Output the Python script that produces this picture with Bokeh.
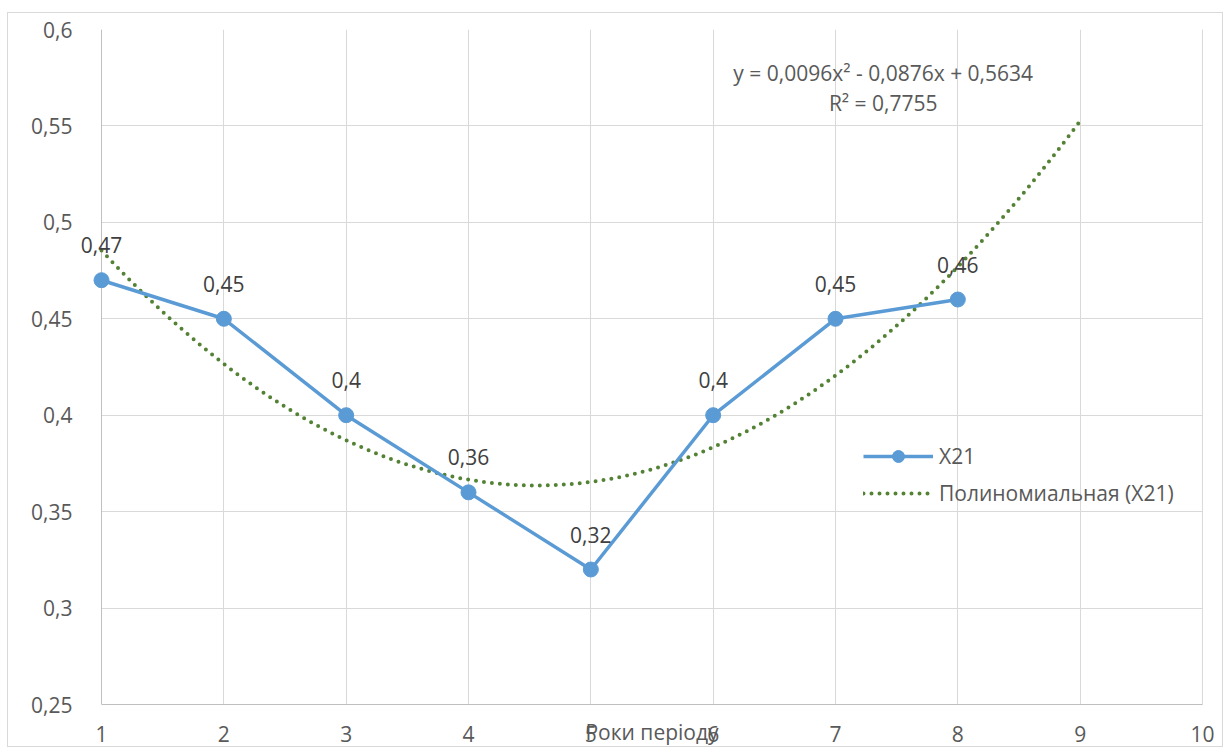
from bokeh.plotting import figure
from bokeh.models import (ColumnDataSource, LabelSet, Label, Legend, LegendItem,
                          FixedTicker, CustomJSTickFormatter, BoxAnnotation, Span)
from bokeh.core.properties import value
from bokeh.embed import file_html
from bokeh.resources import INLINE
import numpy as np

# Series X21 by period year
years = [1, 2, 3, 4, 5, 6, 7, 8]
x21 = [0.47, 0.45, 0.40, 0.36, 0.32, 0.40, 0.45, 0.46]

# Polynomial trend (2nd order), forecast one period forward
trend_coef = [0.0096, -0.0876, 0.5634]
trend_r2 = 0.7755
trend_x_end = 9

x_ticks = [1, 2, 3, 4, 5, 6, 7, 8, 9, 10]
y_ticks = [0.25, 0.30, 0.35, 0.40, 0.45, 0.50, 0.55, 0.60]
x_min, x_max = 1, 10
y_min, y_max = 0.25, 0.60

FONT = "Open Sans"
FS = "21px"
BLUE = "#5B9BD5"
GREEN = "#548235"
GRID = "#D9D9D9"
AXIS = "#BFBFBF"
TICK_TXT = "#595959"
LBL_TXT = "#404040"


def fmt(v):
    return f"{v:g}".replace(".", ",")


src = ColumnDataSource(dict(x=years, y=x21, txt=[fmt(v) for v in x21]))
tx = np.linspace(years[0], trend_x_end, 200)
ty = np.polyval(trend_coef, tx)
tsrc = ColumnDataSource(dict(x=tx, y=ty))

# the frame runs a little past x=1 and x=10 on both sides so the first data
# label is not clipped; those strips are blanked out below
x_pad = 0.18
p = figure(width=1216, height=735, x_range=(x_min - x_pad, x_max + x_pad),
           y_range=(y_min, y_max),
           output_backend="svg", toolbar_location=None,
           min_border_left=71, min_border_top=16, min_border_right=0,
           min_border_bottom=42, margin=(12, 0, 0, 7))
p.styles = {"border": "1px solid #D9D9D9", "box-sizing": "border-box"}
p.outline_line_color = None
p.background_fill_color = "white"
p.border_fill_color = "white"

# axes
for ax in (p.xaxis[0], p.yaxis[0]):
    ax.major_tick_line_color = None
    ax.minor_tick_line_color = None
    ax.major_label_text_font = FONT
    ax.major_label_text_font_size = FS
    ax.major_label_text_color = TICK_TXT
p.xaxis.axis_line_color = AXIS
p.xaxis.bounds = (x_min, x_max)
p.yaxis.axis_line_color = None
p.xaxis.ticker = FixedTicker(ticks=x_ticks)
p.yaxis.ticker = FixedTicker(ticks=y_ticks)
p.xaxis.major_label_standoff = 15
p.yaxis.major_label_standoff = 1
p.yaxis.formatter = CustomJSTickFormatter(
    code="return (+tick.toFixed(2)).toString().replace('.', ',');")

# axis title sits on the same row as the tick labels
p.xaxis.axis_label = "Роки періоду"
p.xaxis.axis_label_text_font = FONT
p.xaxis.axis_label_text_font_size = FS
p.xaxis.axis_label_text_font_style = "normal"
p.xaxis.axis_label_text_color = TICK_TXT
p.xaxis.axis_label_standoff = -27

p.xgrid.grid_line_color = GRID
p.ygrid.grid_line_color = GRID
p.xgrid.ticker = FixedTicker(ticks=x_ticks)
p.ygrid.ticker = FixedTicker(ticks=y_ticks)

for lo, hi in ((x_min - x_pad, x_min), (x_max, x_max + x_pad)):
    p.add_layout(BoxAnnotation(left=lo, right=hi, fill_color="white",
                               fill_alpha=1, line_color=None, level="underlay"))
p.add_layout(Span(location=x_min, dimension="height", line_color=AXIS,
                  line_width=1, level="underlay"))
p.add_layout(Span(location=x_max, dimension="height", line_color=GRID,
                  line_width=1, level="underlay"))

# trend line
trend = p.line("x", "y", source=tsrc, line_color=GREEN, line_width=4,
               line_dash="0 8", line_cap="round")

# data series
ln = p.line("x", "y", source=src, line_color=BLUE, line_width=3.5)
pts = p.scatter("x", "y", source=src, size=15, fill_color=BLUE,
                line_color=BLUE, marker="circle")

labels = LabelSet(x="x", y="y", text="txt", source=src, y_offset=35,
                  text_align="center", text_baseline="middle",
                  text_font=value(FONT), text_font_size=FS,
                  text_color=LBL_TXT)
p.add_layout(labels)

# trend equation
a, b, c = trend_coef
eq = f"y = {fmt(a)}x² - {fmt(-b)}x + {fmt(c)}"
p.add_layout(Label(x=7.39, y=0.5776, text=eq, text_align="center",
                   text_baseline="middle", text_font=FONT,
                   text_font_size=FS, text_color=TICK_TXT))
p.add_layout(Label(x=7.39, y=0.5621, text=f"R² = {fmt(trend_r2)}",
                   text_align="center", text_baseline="middle",
                   text_font=FONT, text_font_size=FS,
                   text_color=TICK_TXT))

legend = Legend(items=[LegendItem(label="X21", renderers=[ln, pts]),
                       LegendItem(label="Полиномиальная (X21)",
                                  renderers=[trend])],
                location=(784, 196), orientation="vertical",
                glyph_width=70, glyph_height=30, label_height=30,
                spacing=7, padding=0, margin=0, label_standoff=6,
                label_text_font=FONT, label_text_font_size=FS,
                label_text_color=TICK_TXT,
                background_fill_alpha=0, border_line_color=None)
p.add_layout(legend)

open("out.html", "w").write(file_html(p, INLINE))
